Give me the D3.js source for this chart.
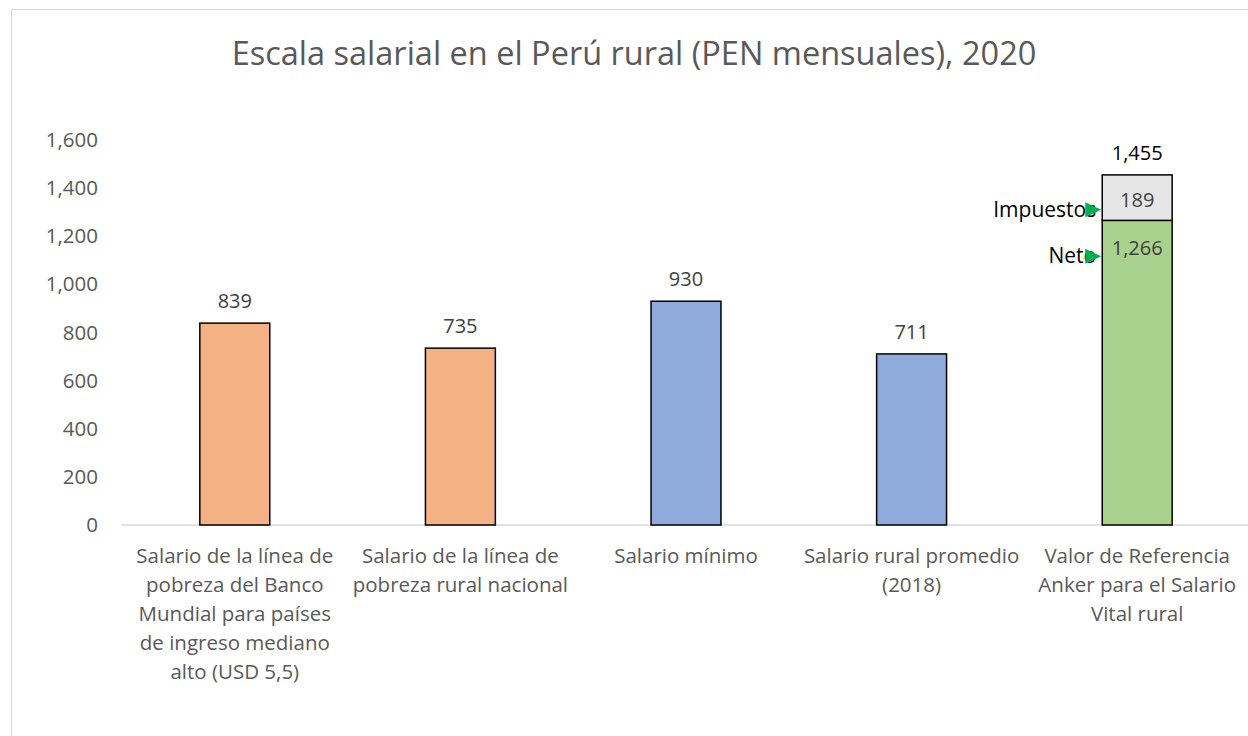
<!DOCTYPE html>
<html lang="es">
<head>
<meta charset="UTF-8">
<title>Escala salarial</title>
<script src="https://cdn.jsdelivr.net/npm/d3@7"></script>
<style>
  body { margin: 0; background: #fff; }
  text { font-family: "Open Sans", sans-serif; }
</style>
</head>
<body>
<div id="chart"></div>
<script>
// data
const categories = ["c1", "c2", "c3", "c4", "c5"];
const categoryLines = [
  ["Salario de la línea de", "pobreza del Banco", "Mundial para países", "de ingreso mediano", "alto (USD 5,5)"],
  ["Salario de la línea de", "pobreza rural nacional"],
  ["Salario mínimo"],
  ["Salario rural promedio", "(2018)"],
  ["Valor de Referencia", "Anker para el Salario", "Vital rural"]
];
const netValues = [839, 735, 930, 711, 1266];
const taxValues = [0, 0, 0, 0, 189];
const barColors = ["#F4B183", "#F4B183", "#8FAADC", "#8FAADC", "#A9D18E"];
const yTicks = [0, 200, 400, 600, 800, 1000, 1200, 1400, 1600];

const width = 1248, height = 736;
const margin = { top: 140, left: 122, right: -2, bottom: 211 };
const fmt = d3.format(",");

const svg = d3.select("#chart").append("svg")
  .attr("width", width)
  .attr("height", height);

// chart border
svg.append("rect")
  .attr("x", 11.5).attr("y", 9.5)
  .attr("width", 1300).attr("height", 800)
  .attr("fill", "none")
  .attr("stroke", "#d9d9d9");

// title
svg.append("text")
  .attr("x", 634).attr("y", 65)
  .attr("text-anchor", "middle")
  .style("font-size", "32.5px")
  .style("fill", "#595959")
  .text("Escala salarial en el Perú rural (PEN mensuales), 2020");

const x = d3.scaleBand()
  .domain(categories)
  .range([margin.left, width - margin.right])
  .paddingInner(0.69)
  .paddingOuter(0.345);

const y = d3.scaleLinear()
  .domain([0, 1600])
  .range([height - margin.bottom, margin.top]);

// y axis labels
const yAxis = svg.append("g")
  .attr("transform", `translate(${margin.left - 21},0)`)
  .call(d3.axisLeft(y).tickValues(yTicks).tickFormat(fmt).tickSize(0));
yAxis.select(".domain").remove();
yAxis.selectAll("text")
  .style("font-family", "Open Sans, sans-serif")
  .style("font-size", "20.5px")
  .style("fill", "#595959");

// baseline
svg.append("line")
  .attr("x1", margin.left).attr("x2", width)
  .attr("y1", y(0)).attr("y2", y(0))
  .attr("stroke", "#d9d9d9")
  .attr("stroke-width", 1.5);

// net bars
svg.selectAll(".net")
  .data(categories)
  .join("rect")
  .attr("class", "net")
  .attr("x", d => x(d))
  .attr("width", x.bandwidth())
  .attr("y", (d, i) => y(netValues[i]))
  .attr("height", (d, i) => y(0) - y(netValues[i]))
  .attr("fill", (d, i) => barColors[i])
  .attr("stroke", "#000")
  .attr("stroke-width", 1.5);

// tax bars (stacked)
svg.selectAll(".tax")
  .data(categories.filter((d, i) => taxValues[i] > 0))
  .join("rect")
  .attr("class", "tax")
  .attr("x", d => x(d))
  .attr("width", x.bandwidth())
  .attr("y", d => { const i = categories.indexOf(d); return y(netValues[i] + taxValues[i]); })
  .attr("height", d => { const i = categories.indexOf(d); return y(netValues[i]) - y(netValues[i] + taxValues[i]); })
  .attr("fill", "#E7E6E6")
  .attr("stroke", "#000")
  .attr("stroke-width", 1.5);

// value labels above bars
categories.forEach((c, i) => {
  const total = netValues[i] + taxValues[i];
  svg.append("text")
    .attr("x", x(c) + x.bandwidth() / 2)
    .attr("y", y(total) - 15)
    .attr("text-anchor", "middle")
    .style("font-size", "20px")
    .style("fill", taxValues[i] > 0 ? "#000" : "#404040")
    .text(fmt(total));
  if (taxValues[i] > 0) {
    const cx = x(c) + x.bandwidth() / 2;
    svg.append("text")
      .attr("x", cx)
      .attr("y", y(netValues[i] + taxValues[i] / 2) + 9)
      .attr("text-anchor", "middle")
      .style("font-size", "20px")
      .style("fill", "#404040")
      .text(fmt(taxValues[i]));
    svg.append("text")
      .attr("x", cx)
      .attr("y", y(netValues[i]) + 35)
      .attr("text-anchor", "middle")
      .style("font-size", "20px")
      .style("fill", "#404040")
      .text(fmt(netValues[i]));

    // annotations
    const left = x(c);
    const notes = [
      { label: "Impuestos", yy: y(netValues[i] + taxValues[i] / 2) + 12 },
      { label: "Neto", yy: y(netValues[i]) + 36 }
    ];
    notes.forEach(n => {
      svg.append("text")
        .attr("x", left - 6)
        .attr("y", n.yy + 7)
        .attr("text-anchor", "end")
        .style("font-size", "21px")
        .style("fill", "#000")
        .text(n.label);
      svg.append("path")
        .attr("d", `M${left - 17},${n.yy - 7.5} L${left - 1},${n.yy} L${left - 17},${n.yy + 7.5} Z`)
        .attr("fill", "#00B050");
    });
  }
});

// category labels
categories.forEach((c, i) => {
  const t = svg.append("text")
    .attr("x", x(c) + x.bandwidth() / 2)
    .attr("y", y(0) + 38)
    .attr("text-anchor", "middle")
    .style("font-size", "20.5px")
    .style("fill", "#595959");
  categoryLines[i].forEach((line, k) => {
    t.append("tspan")
      .attr("x", x(c) + x.bandwidth() / 2)
      .attr("dy", k === 0 ? 0 : 29)
      .text(line);
  });
});
</script>
</body>
</html>
